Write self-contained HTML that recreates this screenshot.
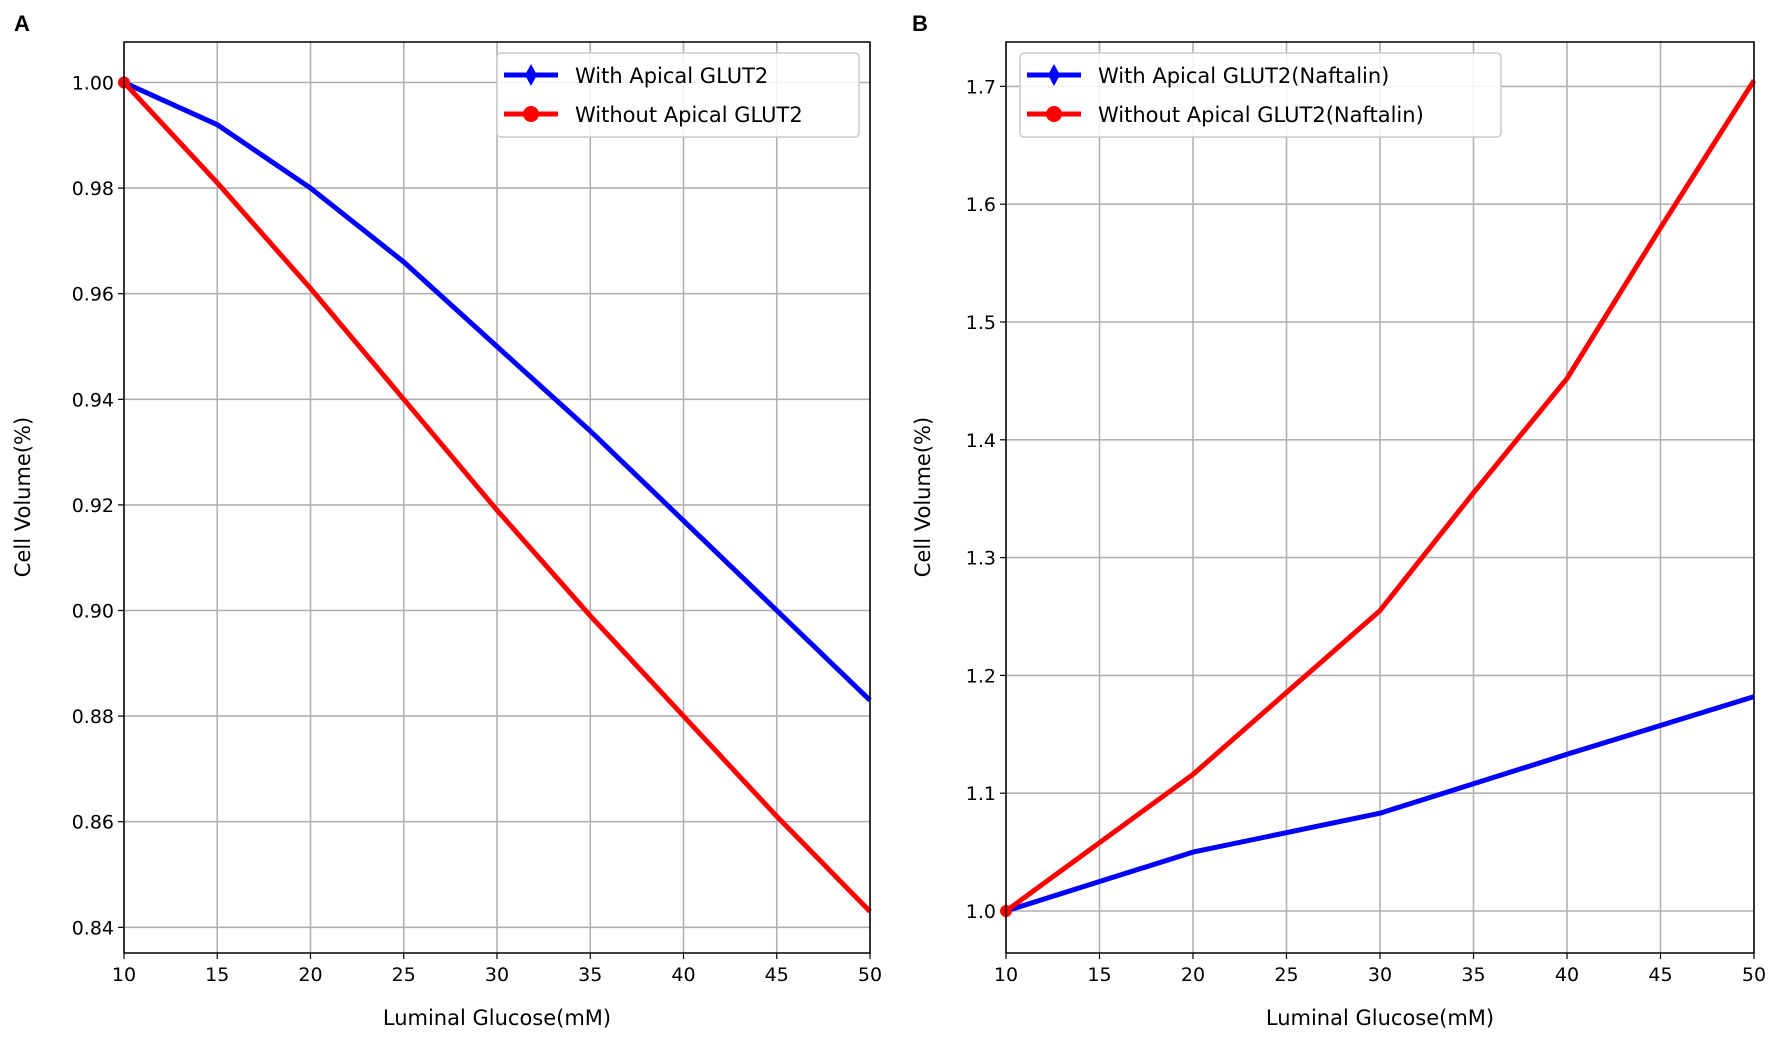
<!DOCTYPE html>
<html><head><meta charset="utf-8"><style>
html,body{margin:0;padding:0;background:#fff;}
svg{display:block;font-family:"DejaVu Sans","Liberation Sans",sans-serif;}
</style></head><body>
<svg id="s" width="1772" height="1047" viewBox="0 0 1772 1047" xmlns="http://www.w3.org/2000/svg">
<rect width="1772" height="1047" fill="#fff"/>
<text x="14" y="31" font-size="22" font-weight="bold" font-family="Liberation Sans, sans-serif">A</text>
<text x="912" y="31" font-size="22" font-weight="bold" font-family="Liberation Sans, sans-serif">B</text>
</svg>
<script>
var s=document.getElementById('s');var NS='http://www.w3.org/2000/svg';
function el(t,a,txt){var e=document.createElementNS(NS,t);for(var k in a)e.setAttribute(k,a[k]);if(txt!=null)e.textContent=txt;s.appendChild(e);return e;}
function panel(o){
 var X=function(v){return o.x0+(v-10)/40*(o.x1-o.x0);};
 var Y=function(v){return o.yr+(o.vr-v)*o.ppu;};
 o.yt.forEach(function(v){var y=Y(v);el('line',{x1:o.x0,x2:o.x1,y1:y,y2:y,stroke:'#b0b0b0','stroke-width':1.6});
  el('line',{x1:o.x0-6,x2:o.x0,y1:y,y2:y,stroke:'#000','stroke-width':1.2});
  el('text',{x:o.x0-10,y:y+7,'font-size':19,'text-anchor':'end'},v.toFixed(o.dec));});
 for(var v=10;v<=50;v+=5){var x=X(v);el('line',{x1:x,x2:x,y1:o.y0,y2:o.y1,stroke:'#b0b0b0','stroke-width':1.6});
  el('line',{x1:x,x2:x,y1:o.y1,y2:o.y1+6,stroke:'#000','stroke-width':1.2});
  el('text',{x:x,y:o.y1+28,'font-size':19,'text-anchor':'middle'},String(v));}
 o.series.forEach(function(sr){var p=sr.d.map(function(d){return X(d[0]).toFixed(1)+','+Y(d[1]).toFixed(1);}).join(' ');
  el('polyline',{points:p,fill:'none',stroke:sr.c,'stroke-width':5,'stroke-linejoin':'round'});});
 el('circle',{cx:X(10),cy:Y(1),r:6,fill:'#f00'});
 el('rect',{x:o.x0,y:o.y0,width:o.x1-o.x0,height:o.y1-o.y0,fill:'none',stroke:'#000','stroke-width':1.5});
 el('text',{x:(o.x0+o.x1)/2,y:1025,'font-size':21,'text-anchor':'middle'},'Luminal Glucose(mM)');
 el('text',{x:0,y:0,'font-size':21,'text-anchor':'middle',transform:'translate('+o.ylx+',497) rotate(-90)'},'Cell Volume(%)');
 var L=o.leg;el('rect',{x:L.x,y:L.y,width:L.w,height:84,rx:4,fill:'#fff','fill-opacity':0.85,stroke:'#ccc','stroke-width':1.5});
 [['#00f',L.t1,L.y+22,'d'],['#f00',L.t2,L.y+61,'c']].forEach(function(e){
  el('line',{x1:L.x+7,x2:L.x+61,y1:e[2],y2:e[2],stroke:e[0],'stroke-width':5});
  var cx=L.x+34;
  if(e[3]=='d')el('polygon',{points:cx+','+(e[2]-11)+' '+(cx+6)+','+e[2]+' '+cx+','+(e[2]+11)+' '+(cx-6)+','+e[2],fill:e[0]});
  else el('circle',{cx:cx,cy:e[2],r:8,fill:e[0]});
  el('text',{x:L.x+78,y:e[2]+8,'font-size':21},e[1]);});
}
panel({x0:124,x1:870,y0:42,y1:953,yr:82.5,vr:1.0,ppu:5280,dec:2,yt:[0.84,0.86,0.88,0.90,0.92,0.94,0.96,0.98,1.00],ylx:30,
 series:[{c:'#00f',d:[[10,1],[15,.992],[20,.980],[25,.966],[30,.950],[35,.934],[40,.917],[45,.900],[50,.883]]},
 {c:'#f00',d:[[10,1],[15,.981],[20,.961],[25,.940],[30,.919],[35,.899],[40,.880],[45,.861],[50,.843]]}],
 leg:{x:497,y:53,w:362,t1:'With Apical GLUT2',t2:'Without Apical GLUT2'}});
panel({x0:1006,x1:1754,y0:42,y1:953,yr:911,vr:1.0,ppu:1178,dec:1,yt:[1.0,1.1,1.2,1.3,1.4,1.5,1.6,1.7],ylx:930,
 series:[{c:'#00f',d:[[10,1.0],[20,1.05],[30,1.083],[35,1.108],[40,1.133],[50,1.182]]},
 {c:'#f00',d:[[10,1.0],[20,1.116],[30,1.255],[35,1.355],[40,1.452],[45,1.58],[50,1.705]]}],
 leg:{x:1020,y:53,w:481,t1:'With Apical GLUT2(Naftalin)',t2:'Without Apical GLUT2(Naftalin)'}});
</script>
</body></html>
